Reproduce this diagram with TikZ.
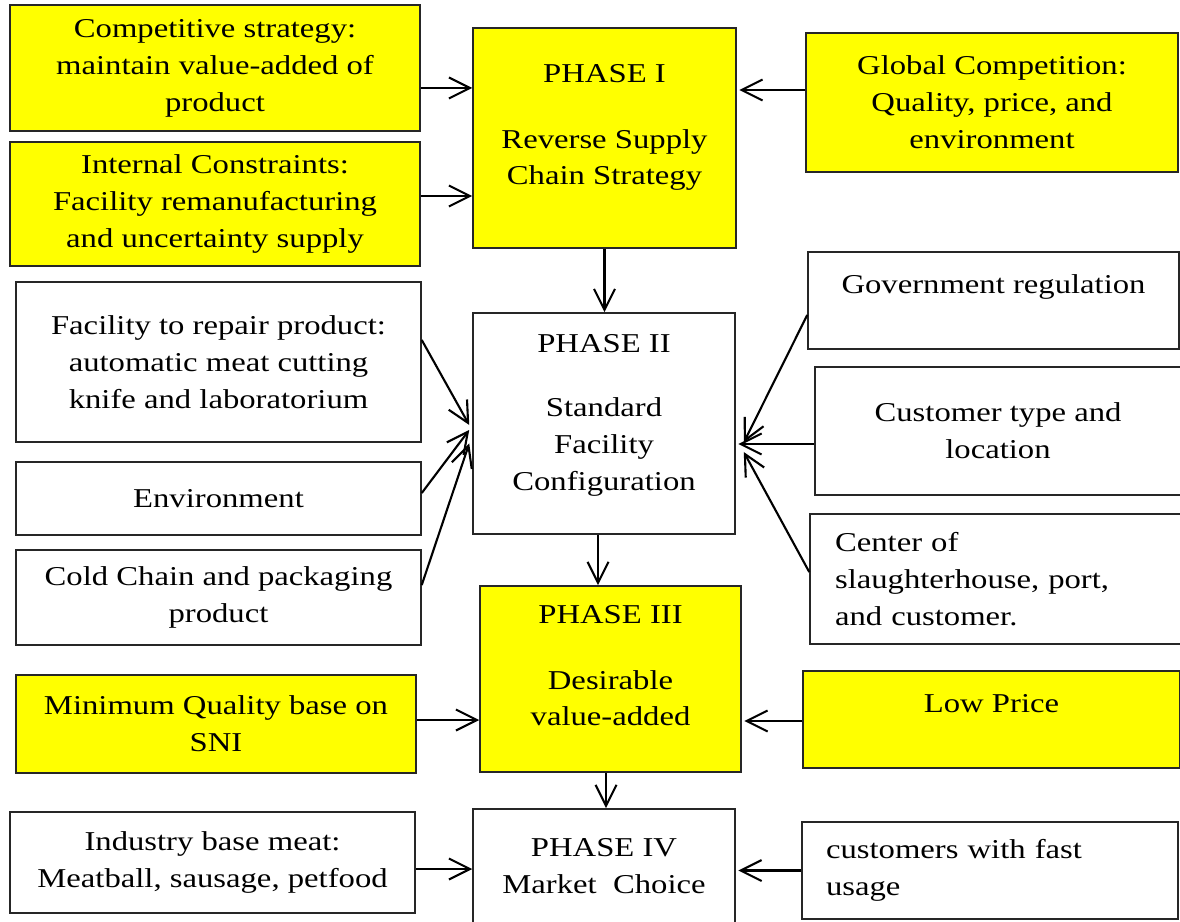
\documentclass[tikz,border=0pt]{standalone}
\usepackage{fontspec}
\setmainfont{Liberation Serif}[FakeStretch=1.2]
\usetikzlibrary{arrows.meta}
\definecolor{phaseyellow}{RGB}{255,255,0}

\begin{document}
\begin{tikzpicture}
[x=0.02cm,y=-0.02cm,
  font=\fontsize{15.5pt}{21pt}\selectfont,
  boxdecorate/.style={shape=rectangle,draw=black!85,line width=0.9pt,
    align=center,inner sep=0pt},
  phasedecorate/.style={boxdecorate,fill=phaseyellow},
  linedecorate/.style={-{Straight Barb[length=4.2mm,width=4.2mm]},line width=1.2pt}]
%%
\useasboundingbox (0,0) rectangle (1180,922);
%%
%% Phases
\node (phaseI) at (604.5,138) [phasedecorate,minimum width=5.26cm,minimum height=4.4cm]
  {PHASE I\\[0.58cm]Reverse Supply\\Chain Strategy\\[-0.2cm]\mbox{}};
\node (phaseII) at (604,423.5) [boxdecorate,minimum width=5.24cm,minimum height=4.42cm]
  {PHASE II\\[0.55cm]Standard\\Facility\\Configuration\\[-0.3cm]\mbox{}};
\node (phaseIII) at (610.5,679) [phasedecorate,minimum width=5.22cm,minimum height=3.72cm]
  {PHASE III\\[0.58cm]Desirable\\value-added\\[-0.2cm]\mbox{}};
\node (phaseIV) at (604,866.5) [boxdecorate,minimum width=5.24cm,minimum height=2.3cm]
  {PHASE IV\\Market~~Choice};
%%
%% Left factors
\node (strategy) at (215,68) [phasedecorate,minimum width=8.2cm,minimum height=2.52cm]
  {Competitive strategy:\\maintain value-added of\\product};
\node (constraint) at (215,204) [phasedecorate,minimum width=8.2cm,minimum height=2.48cm]
  {Internal Constraints:\\Facility remanufacturing\\and uncertainty supply};
\node (repair) at (218.5,362) [boxdecorate,minimum width=8.1cm,minimum height=3.2cm]
  {Facility to repair product:\\automatic meat cutting\\knife and laboratorium};
\node (environment) at (218.5,498.5) [boxdecorate,minimum width=8.1cm,minimum height=1.46cm]
  {Environment};
\node (coldchain) at (218.5,597.5) [boxdecorate,minimum width=8.1cm,minimum height=1.9cm]
  {Cold Chain and packaging\\product};
\node (quality) at (216,724) [phasedecorate,minimum width=8cm,minimum height=1.96cm]
  {Minimum Quality base on\\SNI};
\node (industry) at (212.5,862.5) [boxdecorate,minimum width=8.1cm,minimum height=2.02cm]
  {Industry base meat:\\Meatball, sausage, petfood};
%%
%% Right factors
\node (global) at (992,102.5) [phasedecorate,minimum width=7.44cm,minimum height=2.78cm]
  {Global Competition:\\Quality, price, and\\environment};
\node (regulation) at (993.5,300.5) [boxdecorate,minimum width=7.42cm,minimum height=1.94cm]
  {Government regulation\\[-0.1cm]\mbox{}};
\node (customer) at (998,431) [boxdecorate,minimum width=7.32cm,minimum height=2.56cm]
  {Customer type and\\location};
\node (center) at (995.5,579) [boxdecorate,minimum width=7.42cm,minimum height=2.6cm,
  text width=6.42cm,align=left]
  {Center of\\slaughterhouse, port,\\and customer.};
\node (lowprice) at (991.5,719.5) [phasedecorate,minimum width=7.54cm,minimum height=1.94cm]
  {Low Price\\[-0.1cm]\mbox{}};
\node (fastusage) at (990,870.5) [boxdecorate,minimum width=7.52cm,minimum height=1.94cm,
  text width=6.56cm,align=left]
  {customers with fast\\usage};
%%
%% Phase to phase
\draw[linedecorate] (phaseI.south) -- (phaseI.south |- phaseII.north);
\draw[linedecorate] ([xshift=-0.12cm]phaseII.south) -- ([xshift=-0.12cm]phaseII.south |- phaseIII.north);
\draw[linedecorate] ([xshift=-0.09cm]phaseIII.south) -- ([xshift=-0.09cm]phaseIII.south |- phaseIV.north);
%%
%% Straight inputs
\foreach \startnode/\shift/\endnode in {
  strategy/-0.4/phaseI, constraint/0.16/phaseI, quality/0.08/phaseIII, industry/-0.13/phaseIV}
{
  \draw[linedecorate] ([yshift=\shift cm]\startnode.east) -- ([yshift=\shift cm]\startnode.east -| \endnode.west);
}
\foreach \startnode/\shift/\endnode in {
  global/0.25/phaseI, customer/-0.26/phaseII, lowprice/-0.03/phaseIII, fastusage/0/phaseIV}
{
  \draw[linedecorate] ([yshift=\shift cm]\startnode.west) -- ([yshift=\shift cm,xshift=0.05cm]\startnode.west -| \endnode.east);
}
%%
%% Slanted inputs
\foreach \startnode/\sshift/\eshift in {
  repair/0.44/-0.03, environment/0.11/-0.13, coldchain/0.25/-0.4}
{
  \draw[linedecorate] ([yshift=\sshift cm]\startnode.east) -- ([yshift=\eshift cm,xshift=-0.06cm]phaseII.west);
}
\foreach \startnode/\sshift/\eshift in {
  regulation/-0.29/-0.38, center/0.14/-0.57}
{
  \draw[linedecorate] ([yshift=\sshift cm]\startnode.west) -- ([yshift=\eshift cm,xshift=0.16cm]phaseII.east);
}
\end{tikzpicture}
\end{document}
